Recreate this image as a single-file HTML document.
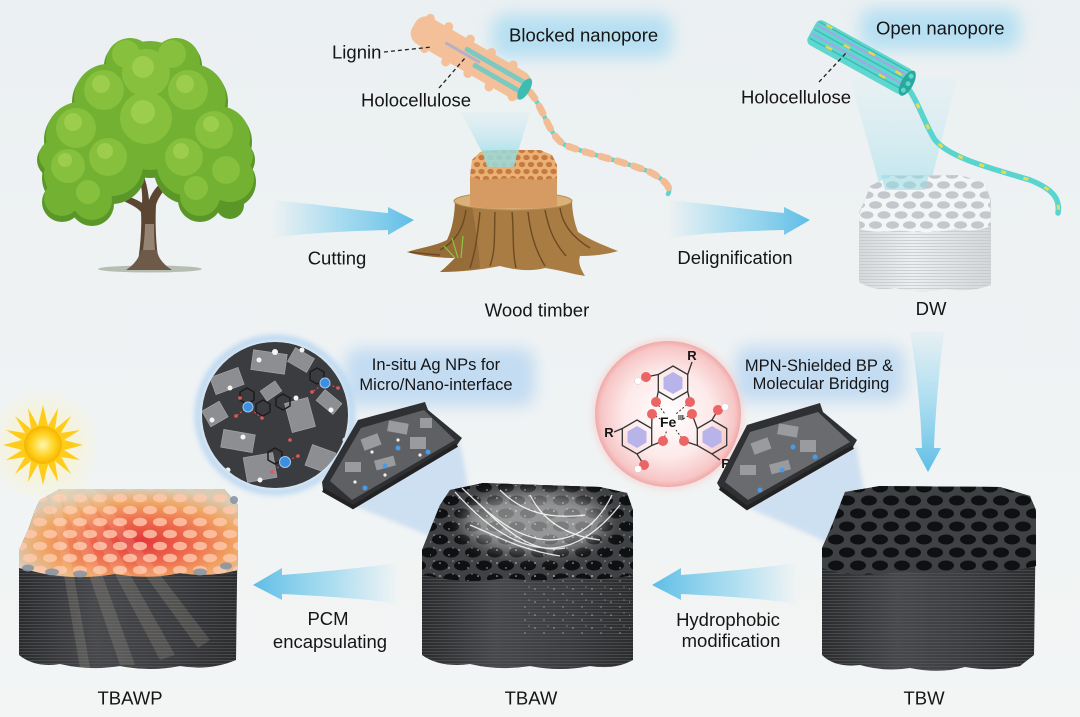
<!DOCTYPE html>
<html><head><meta charset="utf-8"><style>
html,body{margin:0;padding:0;background:#eef1f2;}
svg{display:block}
text{font-family:"Liberation Sans",Arial,sans-serif;fill:#151515;}
</style></head><body>
<svg width="1080" height="717" viewBox="0 0 1080 717" xmlns="http://www.w3.org/2000/svg">
<defs>
 <linearGradient id="bg" x1="0" y1="0" x2="0" y2="1"><stop offset="0" stop-color="#ebf0f2"/><stop offset="1" stop-color="#f3f5f5"/></linearGradient>
 <linearGradient id="arR" x1="0" y1="0" x2="1" y2="0"><stop offset="0" stop-color="#9ad8f0" stop-opacity="0"/><stop offset="0.45" stop-color="#95d6ef" stop-opacity="0.75"/><stop offset="1" stop-color="#5dbde6"/></linearGradient>
 <linearGradient id="arL" x1="1" y1="0" x2="0" y2="0"><stop offset="0" stop-color="#9ad8f0" stop-opacity="0"/><stop offset="0.45" stop-color="#95d6ef" stop-opacity="0.75"/><stop offset="1" stop-color="#5dbde6"/></linearGradient>
 <linearGradient id="arD" x1="0" y1="0" x2="0" y2="1"><stop offset="0" stop-color="#9ad8f0" stop-opacity="0.1"/><stop offset="0.5" stop-color="#95d6ef" stop-opacity="0.75"/><stop offset="1" stop-color="#5dbde6"/></linearGradient>
 <linearGradient id="cone" x1="0" y1="0" x2="0" y2="1"><stop offset="0" stop-color="#bfeaf5" stop-opacity="0.2"/><stop offset="1" stop-color="#7fd6e6" stop-opacity="0.75"/></linearGradient>
 <linearGradient id="sideDark" x1="0" y1="0" x2="1" y2="0"><stop offset="0" stop-color="#2a2b2d"/><stop offset="0.35" stop-color="#47484b"/><stop offset="0.7" stop-color="#3a3b3e"/><stop offset="1" stop-color="#2b2c2e"/></linearGradient>
 <linearGradient id="sideLight" x1="0" y1="0" x2="1" y2="0"><stop offset="0" stop-color="#d6d9dc"/><stop offset="0.4" stop-color="#eceef0"/><stop offset="1" stop-color="#d4d7da"/></linearGradient>
 <radialGradient id="hot" cx="0.55" cy="0.6" r="0.6"><stop offset="0" stop-color="#e2363a"/><stop offset="0.4" stop-color="#ee6a4c"/><stop offset="0.75" stop-color="#f0a765"/><stop offset="1" stop-color="#d9cbb4"/></radialGradient>
 <radialGradient id="pinkC" cx="0.5" cy="0.5" r="0.5"><stop offset="0" stop-color="#ffffff"/><stop offset="0.6" stop-color="#fde9e9"/><stop offset="0.92" stop-color="#f7c6c6"/><stop offset="1" stop-color="#f1a9a9"/></radialGradient>
 <radialGradient id="sunG" cx="0.5" cy="0.5" r="0.5"><stop offset="0" stop-color="#fff6b0"/><stop offset="0.6" stop-color="#ffd321"/><stop offset="1" stop-color="#f5b400"/></radialGradient>
 <radialGradient id="sunGlow" cx="0.5" cy="0.5" r="0.5"><stop offset="0" stop-color="#fff3b0" stop-opacity="0.8"/><stop offset="1" stop-color="#fff3b0" stop-opacity="0"/></radialGradient>
 <filter id="blur8" x="-30%" y="-50%" width="160%" height="200%"><feGaussianBlur stdDeviation="8"/></filter>
 <filter id="blur3" x="-20%" y="-20%" width="140%" height="140%"><feGaussianBlur stdDeviation="3"/></filter>
 <filter id="blur2" x="-20%" y="-20%" width="140%" height="140%"><feGaussianBlur stdDeviation="2"/></filter>
 <pattern id="holesDark" width="22" height="26" patternUnits="userSpaceOnUse">
   <ellipse cx="11" cy="6.5" rx="8" ry="5" fill="#0f1011"/>
   <ellipse cx="0" cy="19.5" rx="8" ry="5" fill="#0f1011"/>
   <ellipse cx="22" cy="19.5" rx="8" ry="5" fill="#0f1011"/>
 </pattern>
 <pattern id="holesLight" width="17" height="20" patternUnits="userSpaceOnUse">
   <ellipse cx="8.5" cy="5" rx="6.5" ry="3.8" fill="#c4c8cd"/>
   <ellipse cx="0" cy="15" rx="6.5" ry="3.8" fill="#c4c8cd"/>
   <ellipse cx="17" cy="15" rx="6.5" ry="3.8" fill="#c4c8cd"/>
 </pattern>
 <pattern id="holesHot" width="20" height="24" patternUnits="userSpaceOnUse">
   <ellipse cx="10" cy="6" rx="7" ry="4.3" fill="#ffc9ae" opacity="0.8"/>
   <ellipse cx="0" cy="18" rx="7" ry="4.3" fill="#ffc9ae" opacity="0.8"/>
   <ellipse cx="20" cy="18" rx="7" ry="4.3" fill="#ffc9ae" opacity="0.8"/>
 </pattern>
 <pattern id="honey" width="9" height="14" patternUnits="userSpaceOnUse">
   <ellipse cx="4.5" cy="3.5" rx="3.2" ry="2.6" fill="#c47a40"/>
   <ellipse cx="0" cy="10.5" rx="3.2" ry="2.6" fill="#c47a40"/>
   <ellipse cx="9" cy="10.5" rx="3.2" ry="2.6" fill="#c47a40"/>
 </pattern>
 <pattern id="stripesD" width="6" height="3" patternUnits="userSpaceOnUse"><rect width="6" height="1" fill="#5c5d60" opacity="0.55"/></pattern>
 <pattern id="stripesL" width="6" height="3" patternUnits="userSpaceOnUse"><rect width="6" height="1" fill="#c6c9cc" opacity="0.8"/></pattern>
 <pattern id="spark" width="19" height="13" patternUnits="userSpaceOnUse"><circle cx="3" cy="4" r="0.8" fill="#fff"/><circle cx="12" cy="9" r="0.7" fill="#fff"/><circle cx="16" cy="2" r="0.6" fill="#fff"/></pattern>
 <clipPath id="cl1"><circle cx="275" cy="415" r="73"/></clipPath>
 <clipPath id="topTBW"><path d="M845,492 L880,486 L1000,487 L1030,496 L1036,512 L1036,566 Q1000,575 970,570 Q940,576 905,571 Q870,577 840,573 L822,568 L822,548 L830,530 L838,510 Z"/></clipPath>
 <clipPath id="topTBAW"><path d="M450,490 L483,483 L600,487 L627,493 L633,510 L633,575 Q600,582 570,577 Q540,583 505,578 Q470,584 440,578 L422,575 L422,550 L430,530 L440,505 Z"/></clipPath>
 <clipPath id="topTBAWP"><path d="M40,500 L60,489 L224,489 L238,505 L238,570 Q210,578 180,573 Q150,580 115,574 Q80,580 45,574 L19,568 L19,550 L28,530 L35,510 Z"/></clipPath>
 <clipPath id="topDW"><path d="M870,186 L890,176 L960,175 L985,183 L990,200 L991,226 Q975,233 955,229 Q925,235 900,230 Q878,234 860,229 L859,215 L865,200 Z"/></clipPath>
</defs>

<rect width="1080" height="717" fill="url(#bg)"/>

<!-- ===== TREE ===== -->
<ellipse cx="150" cy="269" rx="52" ry="3.5" fill="#7d8a76" opacity="0.5"/>
<path d="M137,268 C140,250 142,230 141,212 C135,205 120,200 105,192 L108,188 C122,195 135,198 142,203 C143,190 140,175 132,160 L136,158 C144,172 148,188 149,200 C155,185 165,178 185,170 L187,174 C170,183 160,192 156,205 C155,225 156,250 160,268 Z" fill="#5b4533"/>
<path d="M141,266 C143,250 145,236 145,224 L154,224 C154,240 155,254 157,266 Z" fill="#a89a88" opacity="0.75"/>
<path d="M126,270 C135,264 139,258 141,250 L157,250 C158,258 163,264 172,270 Z" fill="#6d5a48"/>
<g fill="#5a9628">
<circle cx="150" cy="85" r="42"/><circle cx="108" cy="102" r="36"/><circle cx="192" cy="102" r="36"/><circle cx="80" cy="140" r="36"/><circle cx="150" cy="132" r="46"/><circle cx="218" cy="142" r="34"/><circle cx="72" cy="178" r="30"/><circle cx="112" cy="170" r="34"/><circle cx="188" cy="170" r="34"/><circle cx="230" cy="182" r="26"/><circle cx="92" cy="204" r="22"/><circle cx="200" cy="200" r="22"/><circle cx="62" cy="202" r="20"/><circle cx="130" cy="66" r="26"/><circle cx="176" cy="66" r="26"/><circle cx="235" cy="160" r="20"/><circle cx="55" cy="160" r="18"/><circle cx="230" cy="205" r="14"/>
</g>
<g fill="#72b132">
<circle cx="150" cy="81" r="40"/><circle cx="108" cy="98" r="34"/><circle cx="192" cy="98" r="34"/><circle cx="80" cy="136" r="34"/><circle cx="150" cy="127" r="43"/><circle cx="218" cy="138" r="32"/><circle cx="72" cy="174" r="28"/><circle cx="112" cy="165" r="31"/><circle cx="188" cy="165" r="31"/><circle cx="230" cy="178" r="24"/><circle cx="92" cy="200" r="20"/><circle cx="200" cy="196" r="20"/><circle cx="62" cy="198" r="18"/><circle cx="130" cy="62" r="24"/><circle cx="176" cy="62" r="24"/><circle cx="235" cy="156" r="18"/><circle cx="55" cy="156" r="16"/>
</g>
<g fill="#86c03c">
<circle cx="146" cy="73" r="24"/><circle cx="104" cy="90" r="20"/><circle cx="188" cy="90" r="20"/><circle cx="76" cy="128" r="20"/><circle cx="146" cy="118" r="26"/><circle cx="214" cy="130" r="19"/><circle cx="68" cy="166" r="17"/><circle cx="108" cy="157" r="19"/><circle cx="184" cy="157" r="19"/><circle cx="226" cy="170" r="14"/><circle cx="88" cy="192" r="12"/><circle cx="196" cy="188" r="12"/><circle cx="126" cy="54" r="14"/><circle cx="172" cy="54" r="14"/>
</g>
<g fill="#9ccd4c">
<circle cx="143" cy="67" r="11"/><circle cx="101" cy="84" r="9"/><circle cx="185" cy="84" r="9"/><circle cx="73" cy="122" r="9"/><circle cx="143" cy="112" r="12"/><circle cx="211" cy="124" r="8"/><circle cx="105" cy="151" r="8"/><circle cx="181" cy="151" r="8"/><circle cx="65" cy="160" r="7"/>
</g>

<!-- ===== CUTTING ARROW ===== -->
<path d="M272,200 C315,204 355,210 388,213 L388,207 L414,220 L388,235 L388,230 C350,231 305,233 272,238 Z" fill="url(#arR)"/>
<text x="337" y="264.5" font-size="18.5" text-anchor="middle">Cutting</text>

<!-- ===== LIGNIN FIBER ===== -->
<rect x="492" y="14" width="180" height="44" rx="14" fill="#b7e0f2" filter="url(#blur8)"/>
<text x="509" y="41.5" font-size="18.5">Blocked nanopore</text>
<polygon points="461,112 530,112 518,152 482,152" fill="url(#cone)" opacity="0.7"/>
<path d="M530,92 C545,110 548,135 565,145 C590,155 620,160 650,172 C665,180 672,188 668,194" fill="none" stroke="#5fd3cf" stroke-width="4.5" stroke-linecap="round"/>
<path d="M530,92 C545,110 548,135 565,145 C590,155 620,160 650,172 C665,180 672,188 668,194" fill="none" stroke="#f2bc94" stroke-width="7" stroke-dasharray="8 9" stroke-linecap="round"/>
<g transform="translate(471,58) rotate(30)">
 <rect x="-66" y="-15" width="132" height="30" rx="12" fill="#f3c09a"/>
 <g fill="#f3c09a"><circle cx="-55" cy="-14" r="4.5"/><circle cx="-35" cy="-16" r="4.5"/><circle cx="-10" cy="-16" r="4.5"/><circle cx="15" cy="-15" r="4.5"/><circle cx="40" cy="-15" r="4.5"/><circle cx="-45" cy="15" r="4.5"/><circle cx="-20" cy="16" r="4.5"/><circle cx="5" cy="15" r="4.5"/><circle cx="30" cy="16" r="4.5"/><circle cx="55" cy="13" r="4.5"/></g>
 <rect x="-10" y="-8" width="70" height="5" rx="2" fill="#5ccaca" opacity="0.8"/>
 <rect x="5" y="2" width="55" height="5" rx="2" fill="#5ccaca" opacity="0.8"/>
 <rect x="-30" y="-2" width="40" height="3" rx="1" fill="#9ca6dc" opacity="0.7"/>
 <ellipse cx="62" cy="0" rx="5" ry="12" fill="#3fbcb2"/>
</g>
<text x="332" y="58.5" font-size="18.5">Lignin</text>
<line x1="384" y1="52" x2="432" y2="47" stroke="#222" stroke-width="1.3" stroke-dasharray="4 3"/>
<text x="361" y="106.5" font-size="18.5">Holocellulose</text>
<line x1="439" y1="88" x2="465" y2="58" stroke="#222" stroke-width="1.3" stroke-dasharray="4 3"/>

<!-- ===== STUMP ===== -->
<path d="M455,200 C455,215 452,230 447,240 C435,246 420,248 407,252 C420,256 440,258 455,258 C450,263 445,268 440,272 C460,272 480,270 500,266 C515,270 530,272 545,268 C560,270 572,274 585,276 C580,268 578,262 580,256 C595,256 608,254 618,251 C605,246 590,240 578,232 C574,222 572,210 572,200 Z" fill="#a97c43"/>
<path d="M455,200 C455,215 452,230 447,240 C435,246 420,248 407,252 C420,256 440,258 455,258 C450,263 445,268 440,272 C455,272 470,270 480,268 C478,240 474,220 472,205 Z" fill="#8a6232" opacity="0.6"/>
<g fill="none" stroke="#6e4a22" stroke-width="1.4">
<path d="M466,210 C464,225 458,240 440,250"/><path d="M480,212 C478,230 476,250 470,268"/><path d="M495,212 C494,232 496,250 490,266"/><path d="M512,212 C514,230 512,250 516,268"/><path d="M528,212 C530,230 534,248 545,266"/><path d="M545,210 C548,225 552,240 566,256"/><path d="M560,208 C562,222 570,236 590,248"/><path d="M440,255 C425,254 418,253 410,252"/>
</g>
<g stroke="#8cc63f" stroke-width="1.2" fill="none"><path d="M458,258 L452,238"/><path d="M461,258 L463,236"/><path d="M455,258 L444,246"/></g>
<ellipse cx="513" cy="201" rx="59" ry="9" fill="#d9b27a" stroke="#b58a50" stroke-width="1"/>
<path d="M470,176 L557,176 L557,206 Q535,210 513,208 Q490,210 470,206 Z" fill="#dba36a"/>
<path d="M470,176 L557,176 L557,206 Q535,210 513,208 Q490,210 470,206 Z" fill="#c98a4f" opacity="0.3"/>
<path d="M472,160 L480,152 L500,150 L540,150 L552,155 L557,165 L557,178 L540,180 L510,178 L480,180 L470,176 Z" fill="#ebb174"/>
<path d="M472,160 L480,152 L500,150 L540,150 L552,155 L557,165 L557,178 L540,180 L510,178 L480,180 L470,176 Z" fill="url(#honey)"/>
<polygon points="482,150 518,150 514,167 487,167" fill="#9adada" opacity="0.85"/>
<text x="537" y="316.5" font-size="18.5" text-anchor="middle">Wood timber</text>

<!-- ===== DELIGNIFICATION ARROW ===== -->
<path transform="translate(396,0)" d="M272,200 C315,204 355,210 388,213 L388,207 L414,220 L388,235 L388,230 C350,231 305,233 272,238 Z" fill="url(#arR)"/>
<text x="735" y="264" font-size="18.5" text-anchor="middle">Delignification</text>

<!-- ===== OPEN NANOPORE ===== -->
<rect x="860" y="8" width="160" height="42" rx="14" fill="#b7e0f2" filter="url(#blur8)"/>
<text x="876" y="34.5" font-size="18.5">Open nanopore</text>
<polygon points="850,78 957,78 929,190 881,190" fill="url(#cone)" opacity="0.55"/>
<path d="M905,84 C918,100 925,125 935,140 C950,158 990,168 1030,180 C1055,190 1060,200 1058,213" fill="none" stroke="#5ad4cf" stroke-width="5.5" stroke-linecap="round"/>
<path d="M905,84 C918,100 925,125 935,140 C950,158 990,168 1030,180 C1055,190 1060,200 1058,213" fill="none" stroke="#e8dc55" stroke-width="3" stroke-dasharray="5 18"/>
<g transform="translate(860,57) rotate(29)">
 <rect x="-55" y="-14" width="110" height="28" rx="6" fill="#5fd6cf"/>
 <g stroke="#a8a3e3" stroke-width="2"><line x1="-53" y1="-7" x2="50" y2="-7"/><line x1="-53" y1="3" x2="50" y2="3"/></g>
 <g stroke="#38bdb3" stroke-width="1.4"><line x1="-53" y1="-2" x2="50" y2="-2"/><line x1="-53" y1="8" x2="50" y2="8"/><line x1="-53" y1="-11" x2="50" y2="-11"/></g>
 <g fill="#e6d84e"><rect x="-45" y="-13" width="7" height="2.5"/><rect x="-20" y="-4" width="7" height="2.5"/><rect x="5" y="-10" width="7" height="2.5"/><rect x="25" y="5" width="7" height="2.5"/><rect x="-35" y="6" width="7" height="2.5"/><rect x="38" y="-6" width="7" height="2.5"/></g>
 <ellipse cx="54" cy="0" rx="6" ry="14" fill="#29a89c"/>
 <g fill="#5fd6cf"><circle cx="54" cy="-8" r="2.5"/><circle cx="55" cy="0" r="2.5"/><circle cx="54" cy="8" r="2.5"/></g>
</g>
<text x="741" y="103.5" font-size="18.5">Holocellulose</text>
<line x1="819" y1="82" x2="846" y2="53" stroke="#222" stroke-width="1.3" stroke-dasharray="4 3"/>

<!-- ===== DW BLOCK ===== -->
<path d="M859,212 L859,282 Q875,292 895,288 Q920,294 945,289 Q970,293 991,285 L991,200 L985,183 L960,175 L890,176 L870,186 L865,200 Z" fill="url(#sideLight)"/>
<path d="M859,212 L859,282 Q875,292 895,288 Q920,294 945,289 Q970,293 991,285 L991,200 L985,183 L960,175 L890,176 L870,186 L865,200 Z" fill="url(#stripesL)"/>
<path d="M870,186 L890,176 L960,175 L985,183 L990,200 L991,226 Q975,233 955,229 Q925,235 900,230 Q878,234 860,229 L859,215 L865,200 Z" fill="#f4f5f6"/>
<g clip-path="url(#topDW)"><rect x="855" y="172" width="140" height="65" fill="url(#holesLight)"/></g>
<polygon points="881,175 929,175 925,190 885,190" fill="#8fdbe6" opacity="0.5"/>
<text x="931" y="315" font-size="18.5" text-anchor="middle">DW</text>

<!-- ===== VERTICAL ARROW ===== -->
<rect x="735" y="346" width="170" height="56" rx="14" fill="#c3dcf2" filter="url(#blur8)"/>
<path d="M910,332 C918,380 921,420 922,448 L915,448 L928,472 L941,448 L934,448 C935,420 938,380 944,332 Z" fill="url(#arD)"/>
<text x="819" y="371" font-size="16.5" text-anchor="middle">MPN-Shielded BP &amp;</text>
<text x="821" y="389" font-size="16.5" text-anchor="middle">Molecular Bridging</text>

<!-- ===== RED CIRCLE (MPN) ===== -->
<circle cx="668" cy="414" r="76" fill="#f6c8c8" opacity="0.5" filter="url(#blur3)"/>
<circle cx="668" cy="414" r="73" fill="url(#pinkC)"/>
<g stroke="#333" stroke-width="1.3" fill="none">
 <polygon points="673,366 687.7,374.5 687.7,391.5 673,400 658.3,391.5 658.3,374.5"/>
 <polygon points="637,420 651.7,428.5 651.7,445.5 637,454 622.3,445.5 622.3,428.5"/>
 <polygon points="712,420 726.7,428.5 726.7,445.5 712,454 697.3,445.5 697.3,428.5"/>
 <line x1="687.7" y1="374.5" x2="692" y2="362"/>
 <line x1="658.3" y1="374.5" x2="646" y2="377"/>
 <line x1="658.3" y1="391.5" x2="656" y2="402"/>
 <line x1="687.7" y1="391.5" x2="690" y2="402"/>
 <line x1="651.7" y1="428.5" x2="652" y2="414"/>
 <line x1="651.7" y1="445.5" x2="663" y2="441"/>
 <line x1="622.3" y1="428.5" x2="614" y2="432"/>
 <line x1="637" y1="454" x2="644" y2="465"/>
 <line x1="697.3" y1="428.5" x2="692" y2="414"/>
 <line x1="697.3" y1="445.5" x2="684" y2="441"/>
 <line x1="712" y1="420" x2="718" y2="410"/>
 <line x1="712" y1="454" x2="720" y2="460"/>
</g>
<g fill="#b8b4ea"><polygon points="673,372 682.5,377.5 682.5,388.5 673,394 663.5,388.5 663.5,377.5"/><polygon points="637,426 646.5,431.5 646.5,442.5 637,448 627.5,442.5 627.5,431.5"/><polygon points="712,426 721.5,431.5 721.5,442.5 712,448 702.5,442.5 702.5,431.5"/></g>
<g stroke="#333" stroke-width="1" stroke-dasharray="2 2"><line x1="656" y1="402" x2="665" y2="414"/><line x1="690" y1="402" x2="676" y2="414"/><line x1="652" y1="414" x2="662" y2="420"/><line x1="663" y1="441" x2="667" y2="430"/><line x1="692" y1="414" x2="681" y2="420"/><line x1="684" y1="441" x2="676" y2="430"/></g>
<g fill="#ec6464"><circle cx="656" cy="402" r="5"/><circle cx="690" cy="402" r="5"/><circle cx="646" cy="377" r="5"/><circle cx="652" cy="414" r="5"/><circle cx="663" cy="441" r="5"/><circle cx="644" cy="465" r="5"/><circle cx="692" cy="414" r="5"/><circle cx="684" cy="441" r="5"/><circle cx="718" cy="410" r="5"/></g>
<g fill="#ffffff" stroke="#ccc" stroke-width="0.5"><circle cx="638" cy="381" r="3.5"/><circle cx="638" cy="469" r="3.5"/><circle cx="725" cy="407" r="3.5"/></g>
<text x="692" y="360" font-size="13" font-weight="bold" text-anchor="middle">R</text>
<text x="609" y="437" font-size="13" font-weight="bold" text-anchor="middle">R</text>
<text x="726" y="468" font-size="13" font-weight="bold" text-anchor="middle">R</text>
<text x="660" y="427" font-size="14" font-weight="bold">Fe</text>
<text x="678" y="420" font-size="7" font-weight="bold">III</text>

<!-- right tube fragment + beam -->
<polygon points="747,507 856,445 875,556 840,548" fill="#a3c8ee" opacity="0.45" filter="url(#blur2)"/>
<polygon points="717,483 747,425 820,403 823,412 857,440 853,447 747,508 720,488" fill="#2f3033"/>
<polygon points="725,482 750,432 818,412 850,442 748,500" fill="#6a6b6e"/>
<g fill="#9a9b9e"><rect x="752" y="440" width="18" height="12" transform="rotate(-20 761 446)"/><rect x="778" y="425" width="20" height="11" transform="rotate(10 788 430)"/><rect x="800" y="440" width="16" height="12"/><rect x="740" y="465" width="16" height="10"/><rect x="770" y="462" width="20" height="10" transform="rotate(-15 780 467)"/></g>
<g fill="#4a9be6"><circle cx="760" cy="490" r="2.5"/><circle cx="793" cy="447" r="2.5"/><circle cx="815" cy="457" r="2.5"/><circle cx="782" cy="470" r="2.5"/></g>
<path d="M720,488 L747,508 L853,447" fill="none" stroke="#222" stroke-width="4"/>

<!-- ===== TBW BLOCK ===== -->
<path d="M822,548 L822,655 Q835,668 860,665 Q885,672 910,668 Q940,674 965,667 Q995,672 1020,666 L1034,655 L1036,510 L1030,496 L1000,487 L880,486 L845,492 L838,510 L830,530 Z" fill="url(#sideDark)"/>
<path d="M822,548 L822,655 Q835,668 860,665 Q885,672 910,668 Q940,674 965,667 Q995,672 1020,666 L1034,655 L1036,510 L1030,496 L1000,487 L880,486 L845,492 L838,510 L830,530 Z" fill="url(#stripesD)"/>
<path d="M845,492 L880,486 L1000,487 L1030,496 L1036,512 L1036,566 Q1000,575 970,570 Q940,576 905,571 Q870,577 840,573 L822,568 L822,548 L830,530 L838,510 Z" fill="#404144"/>
<g clip-path="url(#topTBW)"><rect x="815" y="480" width="230" height="100" fill="url(#holesDark)"/></g>
<text x="924" y="704.5" font-size="18.5" text-anchor="middle">TBW</text>

<!-- ===== HYDROPHOBIC ARROW ===== -->
<path transform="translate(399,0)" d="M399,563 C360,568 320,572 282,575 L282,568 L253,585 L282,600 L282,594 C320,596 360,598 399,604 Z" fill="url(#arL)"/>
<text x="728" y="626" font-size="18.5" text-anchor="middle">Hydrophobic</text>
<text x="731" y="647" font-size="18.5" text-anchor="middle">modification</text>

<!-- ===== LEFT CIRCLE (Ag NPs) ===== -->
<rect x="345" y="348" width="190" height="58" rx="14" fill="#c3dcf2" filter="url(#blur8)"/>
<text x="436" y="370" font-size="16.5" text-anchor="middle">In-situ Ag NPs for</text>
<text x="436" y="390" font-size="16.5" text-anchor="middle">Micro/Nano-interface</text>
<circle cx="275" cy="415" r="77" fill="none" stroke="#b6d6f2" stroke-width="6" filter="url(#blur3)"/>
<g clip-path="url(#cl1)">
 <rect x="200" y="340" width="150" height="150" fill="#3b3c3f"/>
 <g fill="#8d8e91" stroke="#a9aaad" stroke-width="0.6">
  <rect x="252" y="352" width="34" height="20" transform="rotate(8 269 362)"/>
  <rect x="212" y="372" width="30" height="18" transform="rotate(-20 227 381)"/>
  <rect x="290" y="352" width="22" height="16" transform="rotate(30 301 360)"/>
  <rect x="288" y="400" width="24" height="30" transform="rotate(-15 300 415)"/>
  <rect x="222" y="432" width="32" height="18" transform="rotate(10 238 441)"/>
  <rect x="245" y="455" width="30" height="25" transform="rotate(-10 260 467)"/>
  <rect x="308" y="448" width="25" height="22" transform="rotate(20 320 459)"/>
  <rect x="205" y="405" width="20" height="18" transform="rotate(-30 215 414)"/>
  <rect x="318" y="395" width="22" height="14" transform="rotate(40 329 402)"/>
  <rect x="262" y="385" width="18" height="12" transform="rotate(-35 271 391)"/>
 </g>
 <g fill="none" stroke="#1d1d1e" stroke-width="1.5">
  <polygon points="240,392 247,388 254,392 254,400 247,404 240,400"/>
  <polygon points="256,404 263,400 270,404 270,412 263,416 256,412"/>
  <polygon points="276,398 283,394 290,398 290,406 283,410 276,406"/>
  <polygon points="310,372 317,368 324,372 324,380 317,384 310,380"/>
  <polygon points="268,452 275,448 282,452 282,460 275,464 268,460"/>
 </g>
 <g stroke="#e05858" stroke-width="1" stroke-dasharray="2 2"><line x1="248" y1="407" x2="262" y2="418"/><line x1="248" y1="407" x2="236" y2="416"/><line x1="325" y1="383" x2="338" y2="388"/><line x1="285" y1="462" x2="298" y2="456"/><line x1="285" y1="462" x2="272" y2="472"/><line x1="325" y1="383" x2="312" y2="392"/></g>
 <g fill="#e05858"><circle cx="262" cy="418" r="1.8"/><circle cx="236" cy="416" r="1.8"/><circle cx="338" cy="388" r="1.8"/><circle cx="298" cy="456" r="1.8"/><circle cx="272" cy="472" r="1.8"/><circle cx="312" cy="392" r="1.8"/><circle cx="240" cy="398" r="1.8"/><circle cx="290" cy="440" r="1.8"/></g>
 <g fill="#f4f4f4"><circle cx="275" cy="352" r="3"/><circle cx="230" cy="388" r="2.5"/><circle cx="212" cy="420" r="2.5"/><circle cx="243" cy="437" r="2.5"/><circle cx="296" cy="398" r="2.5"/><circle cx="331" cy="410" r="2.5"/><circle cx="345" cy="440" r="2.5"/><circle cx="259" cy="360" r="2.5"/><circle cx="302" cy="350" r="2.5"/><circle cx="228" cy="470" r="2.5"/><circle cx="318" cy="478" r="2.5"/><circle cx="260" cy="480" r="2.5"/><circle cx="330" cy="360" r="2.5"/></g>
 <g fill="#3d8fe0" stroke="#9cc8f2" stroke-width="1"><circle cx="248" cy="407" r="5"/><circle cx="325" cy="383" r="5"/><circle cx="285" cy="462" r="5.5"/></g>
</g>

<!-- left tube fragment + beam -->
<polygon points="352,505 460,442 480,552 440,540" fill="#a3c8ee" opacity="0.45" filter="url(#blur2)"/>
<polygon points="322,482 358,420 425,402 428,410 462,438 457,445 353,507 323,490" fill="#2f3033"/>
<polygon points="330,481 361,428 424,410 455,440 352,500" fill="#5f6063"/>
<g fill="#9a9b9e"><rect x="362" y="436" width="18" height="12" transform="rotate(-20 371 442)"/><rect x="388" y="422" width="20" height="11" transform="rotate(10 398 427)"/><rect x="410" y="437" width="16" height="12"/><rect x="345" y="462" width="16" height="10"/><rect x="375" y="458" width="20" height="10" transform="rotate(-15 385 463)"/><rect x="420" y="418" width="12" height="10"/></g>
<g fill="#f0f0f0"><circle cx="372" cy="452" r="1.6"/><circle cx="398" cy="440" r="1.6"/><circle cx="420" cy="455" r="1.6"/><circle cx="355" cy="482" r="1.6"/><circle cx="385" cy="475" r="1.6"/></g>
<g fill="#4a9be6"><circle cx="365" cy="488" r="2.5"/><circle cx="398" cy="448" r="2.5"/><circle cx="428" cy="452" r="2.5"/><circle cx="385" cy="466" r="2.5"/></g>
<path d="M323,490 L353,507 L457,445" fill="none" stroke="#222" stroke-width="4"/>

<!-- ===== TBAW BLOCK ===== -->
<path d="M422,550 L422,655 Q440,668 470,664 Q500,671 530,666 Q560,672 590,666 Q615,670 633,660 L633,510 L627,493 L600,487 L483,483 L450,490 L440,505 L430,530 Z" fill="url(#sideDark)"/>
<path d="M422,550 L422,655 Q440,668 470,664 Q500,671 530,666 Q560,672 590,666 Q615,670 633,660 L633,510 L627,493 L600,487 L483,483 L450,490 L440,505 L430,530 Z" fill="url(#stripesD)"/>
<path d="M450,490 L483,483 L600,487 L627,493 L633,510 L633,575 Q600,582 570,577 Q540,583 505,578 Q470,584 440,578 L422,575 L422,550 L430,530 L440,505 Z" fill="#404144"/>
<g clip-path="url(#topTBAW)"><rect x="415" y="478" width="225" height="110" fill="url(#holesDark)"/></g>
<ellipse cx="535" cy="522" rx="72" ry="30" fill="#ffffff" opacity="0.45" filter="url(#blur8)"/>
<g fill="none" stroke="#ffffff" stroke-width="1.3" opacity="0.85">
 <path d="M455,492 C480,520 510,545 545,548 C575,550 600,530 620,505"/>
 <path d="M462,488 C490,515 515,538 548,540 C580,540 600,520 612,495"/>
 <path d="M475,500 C500,525 530,555 565,548"/>
 <path d="M500,490 C520,510 545,520 585,515"/>
 <path d="M530,495 C540,515 560,535 600,540"/>
 <path d="M470,525 C495,535 520,550 560,556"/>
</g>
<rect x="430" y="485" width="200" height="180" fill="url(#spark)" opacity="0.7" clip-path="url(#topTBAW)"/>
<rect x="520" y="575" width="110" height="60" fill="url(#spark)" opacity="0.5"/>
<text x="531" y="704.5" font-size="18.5" text-anchor="middle">TBAW</text>

<!-- ===== PCM ARROW ===== -->
<path d="M399,563 C360,568 320,572 282,575 L282,568 L253,585 L282,600 L282,594 C320,596 360,598 399,604 Z" fill="url(#arL)"/>
<text x="328" y="625" font-size="18.5" text-anchor="middle">PCM</text>
<text x="330" y="648" font-size="18.5" text-anchor="middle">encapsulating</text>

<!-- ===== TBAWP BLOCK ===== -->
<path d="M19,550 L19,655 Q35,668 60,664 Q90,671 120,666 Q150,672 180,666 Q210,671 236,660 L238,505 L224,489 L60,489 L40,500 L35,510 L28,530 Z" fill="url(#sideDark)"/>
<path d="M19,550 L19,655 Q35,668 60,664 Q90,671 120,666 Q150,672 180,666 Q210,671 236,660 L238,505 L224,489 L60,489 L40,500 L35,510 L28,530 Z" fill="url(#stripesD)"/>
<path d="M40,500 L60,489 L224,489 L238,505 L238,570 Q210,578 180,573 Q150,580 115,574 Q80,580 45,574 L19,568 L19,550 L28,530 L35,510 Z" fill="url(#hot)"/>
<g clip-path="url(#topTBAWP)"><rect x="15" y="484" width="230" height="100" fill="url(#holesHot)"/></g>
<g fill="#8896a4" opacity="0.9"><ellipse cx="28" cy="568" rx="6" ry="3.5"/><ellipse cx="52" cy="572" rx="7" ry="3.5"/><ellipse cx="80" cy="574" rx="7" ry="3.5"/><ellipse cx="200" cy="572" rx="7" ry="3.5"/><ellipse cx="226" cy="566" rx="6" ry="3.5"/><ellipse cx="234" cy="500" rx="4" ry="4"/></g>
<g fill="#fff6d8" opacity="0.12">
 <polygon points="50,462 60,458 135,665 120,665"/>
 <polygon points="55,460 64,456 175,655 160,660"/>
 <polygon points="45,465 54,462 90,668 80,668"/>
 <polygon points="60,458 68,454 210,640 198,648"/>
</g>
<!-- sun -->
<circle cx="43" cy="445" r="58" fill="url(#sunGlow)"/>
<polygon points="43,405 48,426 58,408 55,429 71,416 61,433 80,430 64,440 83,445 64,450 80,460 61,457 71,474 55,461 58,482 48,464 43,485 38,464 28,482 31,461 15,474 25,457 6,460 22,450 3,445 22,440 6,430 25,433 15,416 31,429 28,408 38,426" fill="#ffcc1a"/>
<circle cx="43" cy="445" r="19" fill="url(#sunG)"/>
<text x="130" y="704.5" font-size="18.5" text-anchor="middle">TBAWP</text>
</svg>
</body></html>
